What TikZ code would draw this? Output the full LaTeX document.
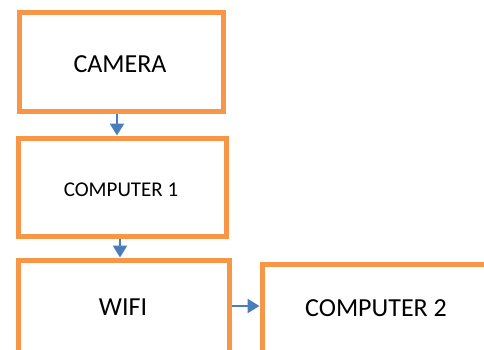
\documentclass[tikz,border=0pt]{standalone}
\usepackage{fontspec}
\setmainfont{Carlito}
\usetikzlibrary{arrows.meta}
\definecolor{boxorange}{HTML}{F79646}
\definecolor{arrowblue}{HTML}{4A7EBB}
\tikzset{
  box/.style={draw=boxorange, line width=5pt, fill=white, rectangle, inner sep=0pt},
  lbl/.style={inner sep=0pt, text=black, font=\fontsize{26}{30}\selectfont},
  lblsmall/.style={inner sep=0pt, text=black, font=\fontsize{21}{24}\selectfont},
  conn/.style={draw=arrowblue, line width=2.5pt, -{Triangle[width=14pt,length=12pt]}}
}
\begin{document}
\begin{tikzpicture}[x=1pt,y=-1pt]
\useasboundingbox (0,0) rectangle (484,349);
\clip (0,0) rectangle (484,349);
\fill[white] (0,0) rectangle (484,349);
\node[box, minimum width=204pt, minimum height=99pt] (cam) at (121,62) {};
\node[box, minimum width=208pt, minimum height=98.5pt] (c1) at (122,187.25) {};
\node[box, minimum width=211pt, minimum height=96pt] (wifi) at (123.5,308) {};
\node[box, minimum width=228pt, minimum height=88pt] (c2) at (376,308.5) {};
\node[lbl] (tcam) at (120,64) {CAMERA};
\node[lblsmall] (tc1) at (121,190) {COMPUTER 1};
\node[lbl] (twifi) at (123,307) {WIFI};
\node[lbl] (tc2) at (376,308) {COMPUTER 2};
\draw[conn] ([xshift=-4]cam.south) -- ([xshift=-4]cam.south |- c1.north);
\draw[conn] ([xshift=-2]c1.south) -- ([xshift=-2]c1.south |- wifi.north);
\draw[conn] ([yshift=2]wifi.east) -- ([yshift=2]wifi.east -| c2.west);
\end{tikzpicture}
\end{document}
